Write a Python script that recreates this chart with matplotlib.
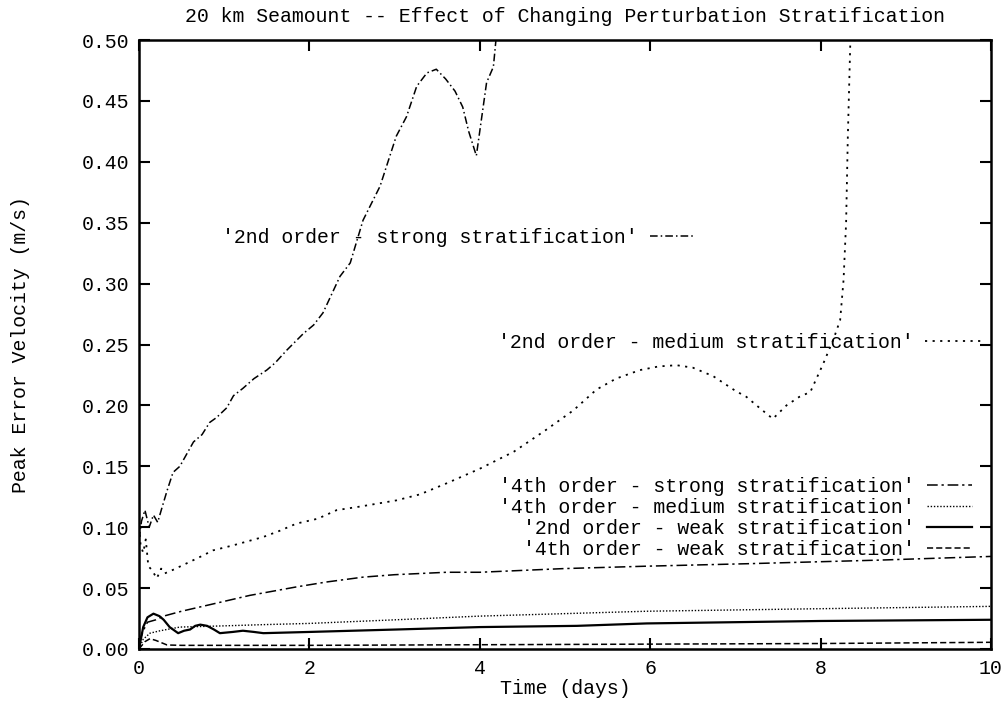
"""Peak error velocity vs time for the 20 km seamount runs (gnuplot-style redraw)."""

import matplotlib

matplotlib.use("Agg")
import matplotlib.pyplot as plt

FONT = ["Liberation Mono", "DejaVu Sans Mono"]
FS = 14.3
plt.rcParams["font.family"] = FONT
plt.rcParams["font.size"] = FS

# --- values ---
t_2nd_strong = [0.0, 0.03, 0.07, 0.12, 0.17, 0.22, 0.27, 0.33, 0.40, 0.48, 0.56, 0.64,
                0.74, 0.83, 0.91, 1.03, 1.11, 1.22, 1.35, 1.5, 1.6, 1.73, 1.93, 2.05,
                2.16, 2.36, 2.48, 2.63, 2.83, 3.02, 3.14, 3.26, 3.38, 3.49, 3.6, 3.71,
                3.8, 3.87, 3.96, 4.03, 4.08, 4.16, 4.19, 4.22]
v_2nd_strong = [0.09, 0.105, 0.114, 0.100, 0.110, 0.104, 0.116, 0.130, 0.145, 0.150,
                0.160, 0.170, 0.176, 0.186, 0.190, 0.198, 0.208, 0.214, 0.222, 0.229,
                0.235, 0.245, 0.259, 0.266, 0.276, 0.306, 0.317, 0.352, 0.380, 0.421,
                0.437, 0.462, 0.473, 0.476, 0.468, 0.458, 0.445, 0.425, 0.405, 0.440,
                0.465, 0.478, 0.500, 0.530]

t_2nd_medium = [0.0, 0.02, 0.05, 0.08, 0.11, 0.15, 0.21, 0.26, 0.3, 0.40, 0.55, 0.7,
                0.87, 1.1, 1.46, 1.65, 1.85, 2.1, 2.32, 2.6, 3.02, 3.3, 3.61, 4.0, 4.4,
                4.78, 5.1, 5.37, 5.6, 5.88, 6.1, 6.31, 6.5, 6.74, 7.0, 7.13, 7.3, 7.44,
                7.6, 7.75, 7.88, 8.03, 8.15, 8.23, 8.27, 8.3, 8.32, 8.35, 8.38]
v_2nd_medium = [0.100, 0.085, 0.079, 0.090, 0.068, 0.065, 0.058, 0.066, 0.062, 0.065,
                0.070, 0.075, 0.081, 0.085, 0.092, 0.097, 0.103, 0.107, 0.114, 0.117,
                0.122, 0.127, 0.136, 0.148, 0.162, 0.180, 0.196, 0.213, 0.222, 0.229,
                0.232, 0.233, 0.231, 0.224, 0.212, 0.207, 0.197, 0.189, 0.200, 0.207,
                0.211, 0.234, 0.254, 0.270, 0.303, 0.350, 0.420, 0.500, 0.550]

t_4th_strong = [0.0, 0.05, 0.1, 0.2, 0.29, 0.5, 0.87, 1.3, 1.85, 2.2, 2.63, 3.0, 3.61,
                4.0, 4.98, 5.96, 7.13, 8.7, 10.0]
v_4th_strong = [0.005, 0.015, 0.022, 0.024, 0.027, 0.031, 0.037, 0.044, 0.051, 0.055,
                0.059, 0.061, 0.063, 0.063, 0.066, 0.068, 0.070, 0.073, 0.076]

t_4th_medium = [0.0, 0.05, 0.13, 0.25, 0.48, 1.0, 1.46, 2.0, 3.02, 4.0, 4.98, 5.96,
                7.91, 10.0]
v_4th_medium = [0.0, 0.008, 0.013, 0.015, 0.018, 0.019, 0.020, 0.021, 0.024, 0.027,
                0.029, 0.031, 0.033, 0.035]

t_2nd_weak = [0.0, 0.05, 0.1, 0.17, 0.24, 0.29, 0.36, 0.46, 0.53, 0.6, 0.66, 0.72, 0.8,
              0.88, 0.95, 1.1, 1.22, 1.35, 1.46, 2.0, 3.02, 4.0, 5.14, 5.96, 8.0, 10.0]
v_2nd_weak = [0.0, 0.018, 0.026, 0.029, 0.027, 0.024, 0.018, 0.013, 0.015, 0.016,
              0.019, 0.020, 0.019, 0.016, 0.013, 0.014, 0.015, 0.014, 0.013, 0.014,
              0.016, 0.018, 0.019, 0.021, 0.023, 0.024]

t_4th_weak = [0.0, 0.07, 0.13, 0.2, 0.33, 0.5, 1.0, 2.0, 4.0, 6.0, 8.0, 10.0]
v_4th_weak = [0.0, 0.006, 0.0085, 0.007, 0.0033, 0.003, 0.003, 0.003, 0.0035, 0.004,
              0.0045, 0.0055]

x_ticks = [0, 2, 4, 6, 8, 10]
y_ticks = [0.00, 0.05, 0.10, 0.15, 0.20, 0.25, 0.30, 0.35, 0.40, 0.45, 0.50]

fig = plt.figure(figsize=(10.04, 7.02), dpi=100)
ax = fig.add_axes([0.1384, 0.0755, 0.8486, 0.8675])

lw = 1.1
(l_ss,) = ax.plot(t_2nd_strong, v_2nd_strong, color="black", lw=lw,
                  dashes=(5, 2, 1, 2))
(l_sm,) = ax.plot(t_2nd_medium, v_2nd_medium, color="black", lw=1.3,
                  dashes=(1.2, 3.0))
(l_fs,) = ax.plot(t_4th_strong, v_4th_strong, color="black", lw=lw,
                  dashes=(7, 2.5, 1.5, 2.5))
(l_fm,) = ax.plot(t_4th_medium, v_4th_medium, color="black", lw=1.0,
                  dashes=(1.0, 1.3))
(l_sw,) = ax.plot(t_2nd_weak, v_2nd_weak, color="black", lw=1.6)
(l_fw,) = ax.plot(t_4th_weak, v_4th_weak, color="black", lw=lw, dashes=(4, 2))

ax.set_xlim(0, 10)
ax.set_ylim(0, 0.5)
ax.set_xticks(x_ticks)
ax.set_yticks(y_ticks)
ax.set_xticklabels([str(v) for v in x_ticks])
ax.set_yticklabels([f"{v:.2f}" for v in y_ticks])
ax.tick_params(direction="in", length=8, width=1.5, top=True, right=True, pad=7)
for sp in ax.spines.values():
    sp.set_linewidth(1.8)

ax.set_title("20 km Seamount -- Effect of Changing Perturbation Stratification",
             fontsize=FS, pad=13)
ax.set_xlabel("Time (days)", labelpad=1)
ax.set_ylabel("Peak Error Velocity (m/s)", labelpad=37)

# gnuplot-style keys: label first, sample after, right aligned
key_kw = dict(frameon=False, markerfirst=False, borderpad=0, borderaxespad=0,
              handletextpad=0.6, fontsize=FS, loc="center right")
k1 = ax.legend([l_ss], ["'2nd order - strong stratification'"],
               bbox_to_anchor=(0.653, 0.676), handlelength=2.3, **key_kw)
ax.add_artist(k1)
k2 = ax.legend([l_sm], ["'2nd order - medium stratification'"],
               bbox_to_anchor=(0.993, 0.504), handlelength=3.0, **key_kw)
ax.add_artist(k2)
ax.legend([l_fs, l_fm, l_sw, l_fw],
          ["'4th order - strong stratification'",
           "'4th order - medium stratification'",
           "'2nd order - weak stratification'",
           "'4th order - weak stratification'"],
          bbox_to_anchor=(0.978, 0.215), handlelength=2.3, labelspacing=0.1,
          **key_kw)

fig.savefig("out.png", dpi=100)
